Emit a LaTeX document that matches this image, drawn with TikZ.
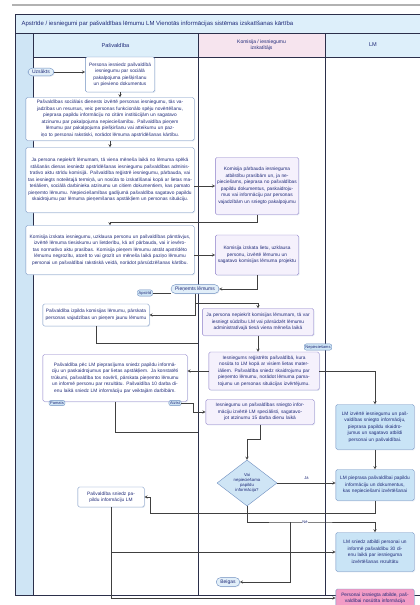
\documentclass[tikz,border=0pt]{standalone}
\usepackage{fontspec}
\setmainfont{Liberation Sans}
\usepackage{tikz}
\usetikzlibrary{shapes,arrows,positioning,shapes.geometric,shadows}
\definecolor{txtblue}{HTML}{1F2A78}
\definecolor{boxline}{HTML}{6F8FC0}
\definecolor{laneblue}{HTML}{CFE5F5}
\definecolor{titleblue}{HTML}{DDEFFA}
\definecolor{headpink}{HTML}{F6E4EE}
\definecolor{lavfill}{HTML}{F5F1FC}
\definecolor{lavline}{HTML}{8A7CC8}
\definecolor{lmfill}{HTML}{C9E4F6}
\definecolor{pinkfill}{HTML}{F29CC6}
\definecolor{frameline}{HTML}{2B2F4A}

\begin{document}
\begin{tikzpicture}[x=1pt,y=-1pt,>=stealth,
  box/.style={draw=boxline,fill=white,rounded corners=1.5pt,align=center,text=txtblue,
    font=\fontsize{4.8}{6.5}\selectfont,inner sep=1.2pt,
    drop shadow={fill=boxline!35,shadow xshift=0.8pt,shadow yshift=-0.8pt}},
  lavbox/.style={box,draw=lavline,fill=lavfill},
  lmbox/.style={box,fill=lmfill},
  pill/.style={box,rounded corners=4pt,fill=laneblue!60,inner xsep=4pt,inner ysep=2pt,
    font=\fontsize{5}{6}\selectfont},
  tag/.style={draw=boxline,fill=laneblue,rounded corners=2pt,text=txtblue,
    font=\fontsize{4}{4.5}\selectfont,inner sep=1.2pt},
  line/.style={draw=black!75,line width=0.4pt},
  arr/.style={line,->}]
\useasboundingbox (0,0) rectangle (420,605);
\fill[white] (0,0) rectangle (420,605);
% Frame, title and lanes
\draw[gray!60,line width=1.2pt] (12,5) -- (420,5);
\fill[titleblue] (15,14) rectangle (421,33);
\fill[laneblue] (15,33) rectangle (33,595);
\fill[titleblue] (33,33) rectangle (198,57);
\fill[headpink] (198,33) rectangle (325,57);
\fill[titleblue] (325,33) rectangle (421,57);
\draw[frameline,line width=0.8pt] (15,14) rectangle (421,595);
\draw[frameline,line width=0.6pt] (15,33) -- (421,33);
\draw[frameline,line width=0.6pt] (33,57) -- (421,57);
\draw[frameline,line width=0.8pt] (33,33) -- (33,595);
\draw[frameline,line width=1pt] (198,33) -- (198,595);
\draw[frameline,line width=0.8pt] (325,33) -- (325,595);
\node[anchor=west,text=txtblue,font=\fontsize{6}{7}\selectfont] (title) at (18,23.5)
  {Apstrīde / iesniegumi par pašvaldības lēmumu LM Vienotās informācijas sistēmas izskatīšanas kārtība};
\node[text=txtblue,font=\fontsize{5.6}{6.5}\selectfont] (hpasv) at (115.5,45) {Pašvaldība};
\node[text=txtblue,font=\fontsize{5}{6}\selectfont,align=center] (hkom) at (261.5,45) {Komisija / iesniegumu\\izskatītājs};
\node[text=txtblue,font=\fontsize{5.6}{6.5}\selectfont] (hlm) at (373,45) {LM};

% Pasvaldiba
\node[pill] (start) at (41,72) {Uzsākts};
\node[box,text width=67pt,minimum height=35pt] (ies) at (120,74.5)
  {Persona iesniedz pašvaldībā iesniegumu par sociālā pakalpojuma piešķiršanu un pievieno dokumentus};
\node[box,text width=166pt,minimum height=43pt] (izv) at (110,119)
  {Pašvaldības sociālais dienests izvērtē personas iesniegumu, tās vajadzības un resursus, veic personas funkcionālo spēju novērtēšanu, pieprasa papildu informāciju no citām institūcijām un sagatavo atzinumu par pakalpojuma nepieciešamību. Pašvaldība pieņem lēmumu par pakalpojuma piešķiršanu vai atteikumu un paziņo to personai rakstiski, norādot lēmuma apstrīdēšanas kārtību.};
\node[box,text width=166pt,minimum height=65pt] (apstr) at (110,180)
  {Ja persona nepiekrīt lēmumam, tā viena mēneša laikā no lēmuma spēkā stāšanās dienas iesniedz apstrīdēšanas iesniegumu pašvaldības administratīvo aktu strīdu komisijā. Pašvaldība reģistrē iesniegumu, pārbauda, vai tas iesniegts noteiktajā termiņā, un nosūta to izskatīšanai kopā ar lietas materiāliem, sociālā darbinieka atzinumu un citiem dokumentiem, kas pamato pieņemto lēmumu. Nepieciešamības gadījumā pašvaldība sagatavo papildu skaidrojumu par lēmuma pieņemšanas apstākļiem un personas situāciju.};
\node[box,text width=166pt,minimum height=49pt] (uzkl) at (110,250)
  {Komisija izskata iesniegumu, uzklausa personu un pašvaldības pārstāvjus, izvērtē lēmuma tiesiskumu un lietderību, kā arī pārbauda, vai ir ievērotas normatīvo aktu prasības. Komisija pieņem lēmumu atstāt apstrīdēto lēmumu negrozītu, atcelt to vai grozīt un mēneša laikā paziņo lēmumu personai un pašvaldībai rakstiskā veidā, norādot pārsūdzēšanas kārtību.};
\node[box,text width=104pt,minimum height=22pt] (izpild) at (96,315)
  {Pašvaldība izpilda komisijas lēmumu, pārskata personas vajadzības un pieņem jaunu lēmumu};
\node[box,draw=lavline,text width=142pt,minimum height=47pt] (sniedz) at (115,378)
  {Pašvaldība pēc LM pieprasījuma sniedz papildu informāciju un paskaidrojumus par lietas apstākļiem. Ja konstatēti trūkumi, pašvaldība tos novērš, pārskata pieņemto lēmumu un informē personu par rezultātu. Pašvaldība 10 darba dienu laikā sniedz LM informāciju par veiktajām darbībām.};
\node[tag] (pamats) at (57,403) {Pamats};
\node[tag] (atzist) at (175,403) {Atzīst};
\node[box,text width=64pt,minimum height=20pt] (papild) at (111,497)
  {Pašvaldība sniedz papildu informāciju LM};

% Komisija
\node[lavbox,text width=81pt,minimum height=57pt] (parb) at (257,186)
  {Komisija pārbauda iesnieguma atbilstību prasībām un, ja nepieciešams, pieprasa no pašvaldības papildu dokumentus, paskaidrojumus vai informāciju par personas vajadzībām un sniegto pakalpojumu};
\node[lavbox,text width=81pt,minimum height=40pt] (projekts) at (257,255)
  {Komisija izskata lietu, uzklausa personu, izvērtē lēmumu un sagatavo komisijas lēmuma projektu};
\node[pill] (lemums) at (195,289) {Pieņemts lēmums};
\node[tag] (apstrid) at (145,293) {Apstrīd};
\node[lavbox,text width=109pt,minimum height=27pt] (sudz) at (258,322)
  {Ja persona nepiekrīt komisijas lēmumam, tā var iesniegt sūdzību LM vai pārsūdzēt lēmumu administratīvajā tiesā viena mēneša laikā};
\node[tag] (nepiec) at (318,347) {Nepieciešams};
\node[lavbox,text width=108pt,minimum height=38pt] (regist) at (264,371)
  {Iesniegums reģistrēts pašvaldībā, kura nosūta to LM kopā ar visiem lietas materiāliem. Pašvaldība sniedz skaidrojumu par pieņemto lēmumu, norādot lēmuma pamatojumu un personas situācijas izvērtējumu.};
\node[lavbox,text width=106pt,minimum height=25pt] (atzin) at (260,412)
  {Iesniegumu un pašvaldības sniegto informāciju izvērtē LM speciālisti, sagatavojot atzinumu 15 darba dienu laikā};
\node[diamond,draw=boxline,fill=laneblue,aspect=1.3,inner sep=0pt,align=center,text=txtblue,
  font=\fontsize{4.3}{5.2}\selectfont,minimum width=60pt,minimum height=46pt] (dia) at (247,483)
  {Vai\\nepieciešama\\papildu\\informācija?};
\node[pill] (beigas) at (228,582) {Beigas};

% LM
\node[lmbox,text width=76pt,minimum height=45pt] (lmizv) at (375,427)
  {LM izvērtē iesniegumu un pašvaldības sniegto informāciju, pieprasa papildu skaidrojumus un sagatavo atbildi personai un pašvaldībai.};
\node[lmbox,text width=76pt,minimum height=31pt] (lmpiepr) at (375,485)
  {LM pieprasa pašvaldībai papildu informāciju un dokumentus, kas nepieciešami izvērtēšanai};
\node[lmbox,text width=76pt,minimum height=39pt] (atbilde) at (375,552)
  {LM sniedz atbildi personai un informē pašvaldību 30 dienu laikā par iesnieguma izvērtēšanas rezultātu};
\node[box,fill=pinkfill,text width=76pt,minimum height=18pt] (izsn) at (375,598)
  {Personai izsniegta atbilde, pašvaldībai nosūtīta informācija};

% Connectors
\coordinate (hjoin) at (195,303);
\coordinate (gjoin) at (198,343);
\coordinate (pjoin) at (198,432);
\coordinate (mn) at (150,513);
\coordinate (nb) at (290,522);
\draw[arr] (start.east) -- (start.east -| ies.west);
\draw[arr] (ies.south) -- (ies.south |- izv.north);
\draw[arr] (izv) -- (apstr);
\draw[arr] (apstr.east |- parb.west) -- (parb.west);
\draw[arr] (parb.south) -- ++(0,7) -| (uzkl.north);
\draw[arr] (uzkl.east |- projekts.west) -- (projekts.west);
\draw[arr] (projekts.south) |- (lemums.east);
\draw[line] (apstrid.east) -- (apstrid.east -| lemums.west);
\draw[arr] (lemums.south) |- (izpild.east);
\draw[arr] (lemums.south) -- (hjoin) -| (sudz.north);
\draw[line] (izpild.south) |- (gjoin);
\draw[arr] (sudz.south) -- (sudz.south |- regist.north);
\draw[arr] (regist.west) -- (regist.west -| sniedz.east);
\draw[arr] (regist.east) -| (lmizv.north);
\draw[arr] (atzist.east) -- ++(12,0) |- (atzin.west);
\draw[line] (sniedz.south) |- (pjoin);
\draw[arr] (atzin.south) -- ++(0,14) -| (dia.north);
\draw[arr] (lmizv) -- (lmpiepr);
\draw[arr] (dia.east) -- node[above,text=txtblue,font=\fontsize{4}{4.5}\selectfont] {Jā} (dia.east -| lmpiepr.west);
\draw[arr] (lmpiepr.south) |- (mn) |- (papild.east);
\draw[arr] (dia.south) |- (nb) -| (atbilde.north);
\node[fill=white,text=txtblue,font=\fontsize{4}{4.5}\selectfont,inner sep=0.5pt] (ne) at (305,522) {Nē};
\draw[arr] (nb) |- (beigas.east);
\draw[arr] (papild.south) |- (atbilde.west);
\draw[arr] (papild.south) |- (izsn.west);
\end{tikzpicture}
\end{document}
